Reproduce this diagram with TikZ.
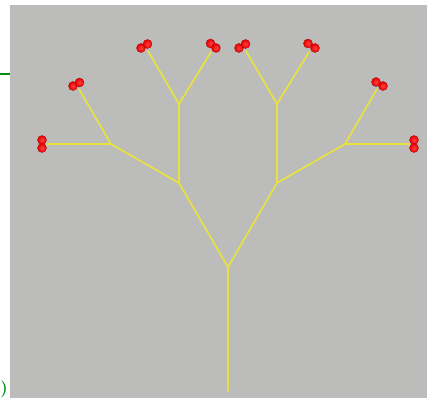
\documentclass[tikz,border=0pt]{standalone}
\usepackage{tikz}
\usetikzlibrary{shadings}
\definecolor{panel}{RGB}{188,189,186}
\definecolor{stem}{RGB}{232,226,64}
\definecolor{frame}{RGB}{0,140,20}
\tikzset{
  branch/.style = {draw=stem, line width=1.7pt, line cap=round},
  berry/.style  = {circle, inner sep=0pt, minimum size=9pt,
                   shading=radial, inner color=red!75!white, outer color=red!90!black,
                   draw=red!65!black, line width=0.3pt},
  mark line/.style = {draw=frame, line width=1.3pt}
}

\begin{document}
\begin{tikzpicture}[x=1pt, y=-1pt]
 \useasboundingbox (0,0) rectangle (430,398);
 \fill[panel] (10,5) rectangle (427,398);
 \coordinate (m0) at (0,74);
 \coordinate (m1) at (10,74);
 \draw[mark line] (m0) -- (m1);
 \node[text=frame, font=\fontsize{17}{19}\selectfont\bfseries, inner sep=0pt] (brace) at (4,389) {)};

 % forks
 \coordinate (root) at (228,391);
 \coordinate (fork) at (228,267);
 \coordinate (l)  at (179,183);
 \coordinate (r)  at (277,183);
 \coordinate (lu) at (179,104);
 \coordinate (ll) at (111,144);
 \coordinate (ru) at (277,104);
 \coordinate (rr) at (345,144);
 % tips
 \coordinate (t1) at (47,144);
 \coordinate (t2) at (79,89);
 \coordinate (t3) at (148,51);
 \coordinate (t4) at (211,52);
 \coordinate (t5) at (246,51);
 \coordinate (t6) at (309,52);
 \coordinate (t7) at (377,89);
 \coordinate (t8) at (410,144);

 \draw[branch] (root) -- (fork);
 \draw[branch] (fork) -- (l);
 \draw[branch] (fork) -- (r);
 \draw[branch] (l) -- (lu);
 \draw[branch] (l) -- (ll);
 \draw[branch] (r) -- (ru);
 \draw[branch] (r) -- (rr);
 \draw[branch] (ll) -- (t1);
 \draw[branch] (ll) -- (t2);
 \draw[branch] (lu) -- (t3);
 \draw[branch] (lu) -- (t4);
 \draw[branch] (ru) -- (t5);
 \draw[branch] (ru) -- (t6);
 \draw[branch] (rr) -- (t7);
 \draw[branch] (rr) -- (t8);

 % berries
 \node[berry] (b1a) at (42,140) {};
 \node[berry] (b1b) at (42,148) {};
 \node[berry] (b2a) at (73,86) {};
 \node[berry] (b2b) at (79.5,82.5) {};
 \node[berry] (b3a) at (141,48) {};
 \node[berry] (b3b) at (147.5,44) {};
 \node[berry] (b4a) at (210.5,43.5) {};
 \node[berry] (b4b) at (216,48) {};
 \node[berry] (b5a) at (239,48) {};
 \node[berry] (b5b) at (245.5,44) {};
 \node[berry] (b6a) at (308,43.5) {};
 \node[berry] (b6b) at (315,48) {};
 \node[berry] (b7a) at (376,82) {};
 \node[berry] (b7b) at (383,86) {};
 \node[berry] (b8a) at (414,140) {};
 \node[berry] (b8b) at (414,148) {};
\end{tikzpicture}
\end{document}
